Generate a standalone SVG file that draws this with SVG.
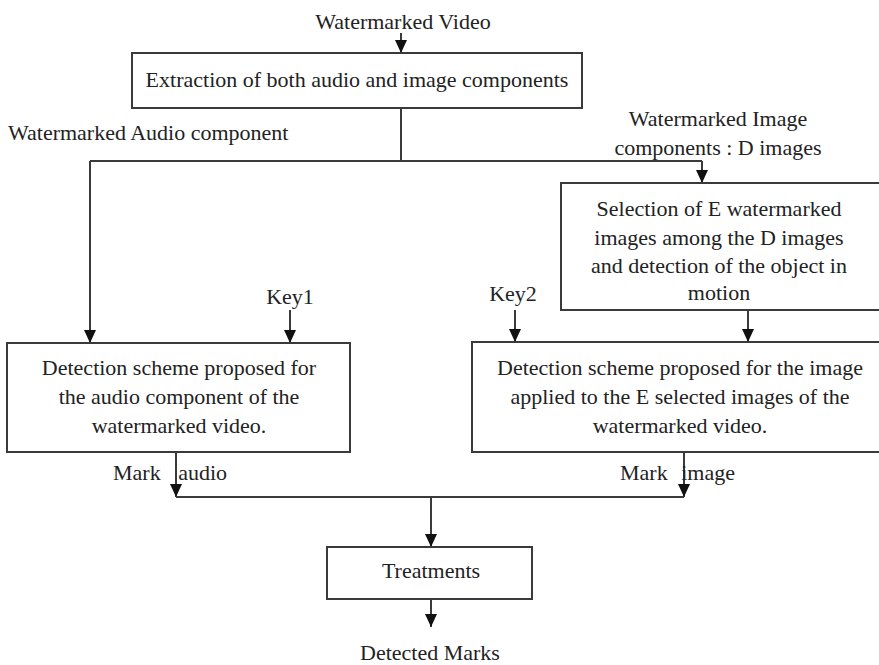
<svg xmlns="http://www.w3.org/2000/svg" width="879" height="665" viewBox="0 0 879 665">
<defs>
<style>
.box{fill:#fff;stroke:#3a3a3a;stroke-width:2}
.ln{fill:none;stroke:#3a3a3a;stroke-width:2}
.t{font-family:"Liberation Serif","Times New Roman",serif;font-size:22px;fill:#222}
.c{text-anchor:middle}
</style>
<marker id="ah" markerUnits="userSpaceOnUse" markerWidth="13" markerHeight="12" refX="13" refY="6" orient="auto" viewBox="0 0 13 12">
<path d="M0,0 L13,6 L0,12 Z" fill="#111"/>
</marker>
</defs>
<rect width="879" height="665" fill="#fff"/>
<g id="connectors">
<path class="ln" d="M401,33 V53" marker-end="url(#ah)"/>
<path class="ln" d="M401,108 V161"/>
<path class="ln" d="M90,161 H702"/>
<path class="ln" d="M90,161 V343" marker-end="url(#ah)"/>
<path class="ln" d="M702,161 V183" marker-end="url(#ah)"/>
<path class="ln" d="M290,310 V343" marker-end="url(#ah)"/>
<path class="ln" d="M515,310 V342" marker-end="url(#ah)"/>
<path class="ln" d="M748,310 V342" marker-end="url(#ah)"/>
<path class="ln" d="M176,452 V497" marker-end="url(#ah)"/>
<path class="ln" d="M684,452 V497" marker-end="url(#ah)"/>
<path class="ln" d="M176,497 H684"/>
<path class="ln" d="M431,497 V547" marker-end="url(#ah)"/>
<path class="ln" d="M431,599 V627" marker-end="url(#ah)"/>
</g>
<g id="label-video"><text class="t c" x="403" y="29">Watermarked Video</text></g>
<g id="extraction">
<rect class="box" x="132" y="53" width="450" height="55"/>
<text class="t c" x="357" y="87">Extraction of both audio and image components</text>
</g>
<g id="label-audio"><text class="t" x="8" y="140">Watermarked Audio component</text></g>
<g id="label-image">
<text class="t c" x="718" y="126">Watermarked Image</text>
<text class="t c" x="718" y="155">components : D images</text>
</g>
<g id="selection">
<rect class="box" x="561" y="183" width="330" height="127"/>
<text class="t c" x="719" y="216">Selection of E watermarked</text>
<text class="t c" x="719" y="245">images among the D images</text>
<text class="t c" x="719" y="273">and detection of the object in</text>
<text class="t c" x="719" y="300">motion</text>
</g>
<g id="key1"><text class="t c" x="290" y="304">Key1</text></g>
<g id="key2"><text class="t c" x="513" y="301">Key2</text></g>
<g id="audio-detection">
<rect class="box" x="7" y="343" width="343" height="109"/>
<text class="t c" x="179" y="375">Detection scheme proposed for</text>
<text class="t c" x="179" y="404">the audio component of the</text>
<text class="t c" x="179" y="433">watermarked video.</text>
</g>
<g id="image-detection">
<rect class="box" x="472" y="342" width="420" height="110"/>
<text class="t c" x="680" y="375">Detection scheme proposed for the image</text>
<text class="t c" x="680" y="404">applied to the E selected images of the</text>
<text class="t c" x="680" y="433">watermarked video.</text>
</g>
<g id="label-mark-audio"><text class="t" x="113" y="480" word-spacing="12">Mark audio</text></g>
<g id="label-mark-image"><text class="t" x="620" y="480" word-spacing="8">Mark image</text></g>
<g id="treatments">
<rect class="box" x="327" y="547" width="205" height="52"/>
<text class="t c" x="431" y="578">Treatments</text>
</g>
<g id="label-detected"><text class="t c" x="430" y="660">Detected Marks</text></g>
</svg>
